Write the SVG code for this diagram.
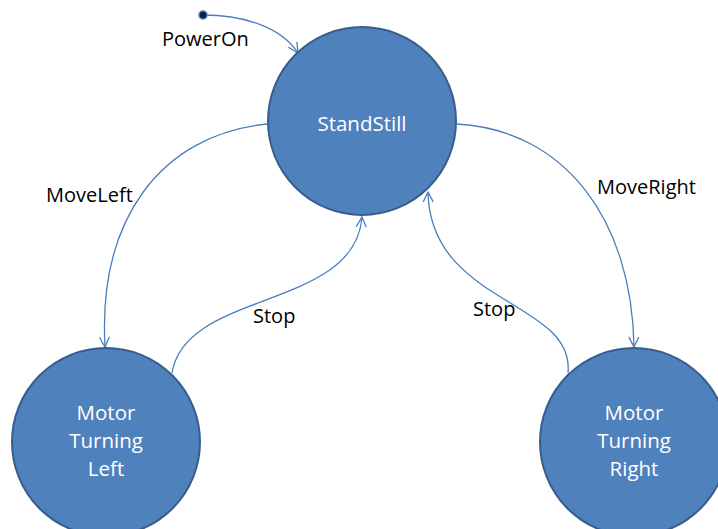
<svg xmlns="http://www.w3.org/2000/svg" width="718" height="529" viewBox="0 0 718 529">
  <defs>
    <style>
      .state { fill: #4f81bd; stroke: #385d8a; stroke-width: 2; }
      .state-text { fill: #ffffff; font-family: "Open Sans", "Liberation Sans", sans-serif; font-size: 20.5px; text-anchor: middle; }
      .edge { fill: none; stroke: #4a7ebb; stroke-width: 1.3; marker-end: url(#arrow); }
      .edge-label { fill: #000000; font-family: "Open Sans", "Liberation Sans", sans-serif; font-size: 20px; }
    </style>
    <marker id="arrow" viewBox="0 0 12 12" refX="11" refY="6" markerWidth="12" markerHeight="12" markerUnits="userSpaceOnUse" orient="auto">
      <path d="M1,1 L11,6 L1,11" fill="none" stroke="#4a7ebb" stroke-width="1.3"/>
    </marker>
  </defs>

  <rect width="718" height="529" fill="#ffffff"/>

  <!-- transitions -->
  <g id="connectors">
    <path class="edge" d="M203,15 C245,15 282,28 298,53"/>
    <path class="edge" d="M267,124 C160,135 98,220 105,347"/>
    <path class="edge" d="M172,373 C185,290 355,310 362,217"/>
    <path class="edge" d="M457,124 C565,130 632,220 634,347"/>
    <path class="edge" d="M568,373 C575,300 430,305 428,192"/>
  </g>

  <!-- initial pseudo-state -->
  <g id="initial">
    <circle cx="203" cy="15" r="4" fill="#10213d" stroke="#4a7ebb" stroke-width="1.5"/>
  </g>

  <g id="standstill">
    <circle class="state" cx="362" cy="121" r="94"/>
    <text class="state-text" x="362" y="131">StandStill</text>
  </g>

  <g id="turning-left">
    <circle class="state" cx="106" cy="442" r="94"/>
    <text class="state-text" x="106" y="420">Motor</text>
    <text class="state-text" x="106" y="448">Turning</text>
    <text class="state-text" x="106" y="476">Left</text>
  </g>

  <g id="turning-right">
    <circle class="state" cx="634" cy="442" r="94"/>
    <text class="state-text" x="634" y="420">Motor</text>
    <text class="state-text" x="634" y="448">Turning</text>
    <text class="state-text" x="634" y="476">Right</text>
  </g>

  <!-- transition labels -->
  <g id="labels">
    <text class="edge-label" x="162" y="46">PowerOn</text>
    <text class="edge-label" x="46" y="202">MoveLeft</text>
    <text class="edge-label" x="597" y="194">MoveRight</text>
    <text class="edge-label" x="253" y="323">Stop</text>
    <text class="edge-label" x="473" y="316">Stop</text>
  </g>
</svg>
